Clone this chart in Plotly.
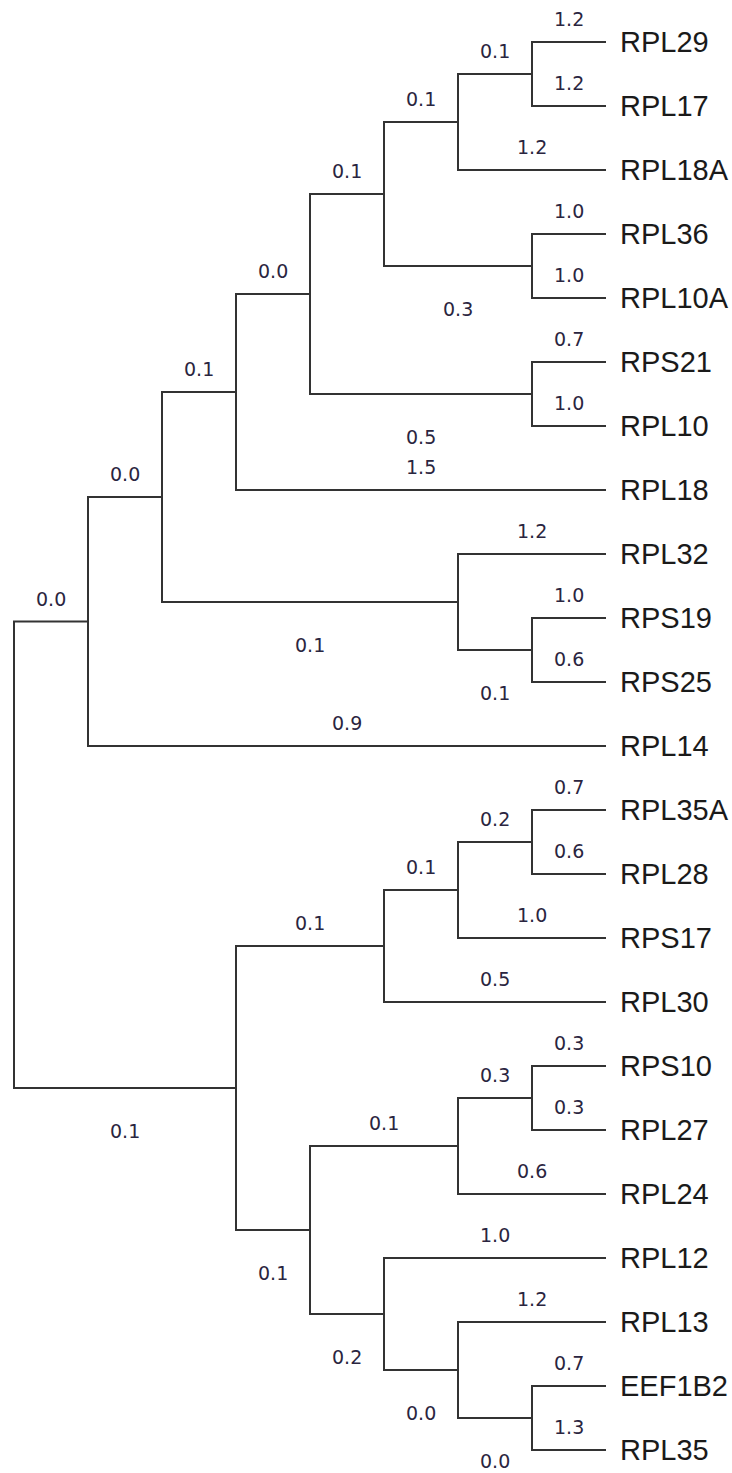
import plotly.graph_objects as go

# Leaf order, top to bottom
leaf_names = ["RPL29", "RPL17", "RPL18A", "RPL36", "RPL10A", "RPS21", "RPL10",
              "RPL18", "RPL32", "RPS19", "RPS25", "RPL14", "RPL35A", "RPL28",
              "RPS17", "RPL30", "RPS10", "RPL27", "RPL24", "RPL12", "RPL13",
              "EEF1B2", "RPL35"]

# Tree edges (parent -> child, with branch length); for each parent the
# upper child is listed first.
edge_parent = ["root", "root",
               "A", "A",
               "A1", "A1",
               "A2", "A2",
               "A4", "A4",
               "A5", "A5",
               "A7", "A7",
               "A9", "A9",
               "A8", "A8",
               "A6", "A6",
               "A3", "A3",
               "A10", "A10",
               "B", "B",
               "B1", "B1",
               "B3", "B3",
               "B4", "B4",
               "B2", "B2",
               "B5", "B5",
               "B7", "B7",
               "B6", "B6",
               "B8", "B8",
               "B9", "B9"]
edge_child = ["A", "B",
              "A1", "RPL14",
              "A2", "A3",
              "A4", "RPL18",
              "A5", "A6",
              "A7", "A8",
              "A9", "RPL18A",
              "RPL29", "RPL17",
              "RPL36", "RPL10A",
              "RPS21", "RPL10",
              "RPL32", "A10",
              "RPS19", "RPS25",
              "B1", "B2",
              "B3", "RPL30",
              "B4", "RPS17",
              "RPL35A", "RPL28",
              "B5", "B6",
              "B7", "RPL24",
              "RPS10", "RPL27",
              "RPL12", "B8",
              "RPL13", "B9",
              "EEF1B2", "RPL35"]
edge_length = [0.0, 0.1,
               0.0, 0.9,
               0.1, 0.1,
               0.0, 1.5,
               0.1, 0.5,
               0.1, 0.3,
               0.1, 1.2,
               1.2, 1.2,
               1.0, 1.0,
               0.7, 1.0,
               1.2, 0.1,
               1.0, 0.6,
               0.1, 0.1,
               0.1, 0.5,
               0.2, 1.0,
               0.7, 0.6,
               0.1, 0.2,
               0.3, 0.6,
               0.3, 0.3,
               1.0, 0.0,
               1.2, 0.0,
               0.7, 1.3]

# ---- topology-only layout: x by node height, y by leaf order ----
children = {}
for p, c in zip(edge_parent, edge_child):
    children.setdefault(p, []).append(c)

height = {}
def get_height(n):
    if n not in children:
        height[n] = 0
    else:
        height[n] = 1 + max(get_height(c) for c in children[n])
    return height[n]

get_height("root")
max_h = height["root"]

ypos = {name: i for i, name in enumerate(leaf_names)}
def get_y(n):
    if n in ypos:
        return ypos[n]
    ys = [get_y(c) for c in children[n]]
    ypos[n] = (ys[0] + ys[-1]) / 2
    return ypos[n]

get_y("root")
xpos = {n: max_h - h for n, h in height.items()}

# bracket paths for each internal node
lx, ly = [], []
for p, kids in children.items():
    c1, c2 = kids[0], kids[-1]
    lx += [xpos[c1], xpos[p], xpos[p], xpos[c2], None]
    ly += [ypos[c1], ypos[c1], ypos[c2], ypos[c2], None]

fig = go.Figure()
fig.add_trace(go.Scatter(x=lx, y=ly, mode="lines",
                         line=dict(color="#333333", width=2),
                         hoverinfo="skip", showlegend=False))

annotations = []
# leaf names
for name in leaf_names:
    annotations.append(dict(x=xpos[name], y=ypos[name], text=name,
                            showarrow=False, xanchor="left", yanchor="middle",
                            xshift=12,
                            font=dict(family="Liberation Sans, Arial", size=29,
                                      color="#1a1a1a")))

# branch length labels: leaves and upper children above, lower internal below
for p, c, L in zip(edge_parent, edge_child, edge_length):
    is_lower = children[p][-1] == c
    below = is_lower and c in children
    annotations.append(dict(x=(xpos[p] + xpos[c]) / 2, y=ypos[c],
                            text=f"{L:.1f}", showarrow=False,
                            xanchor="center", yanchor="middle",
                            yshift=-43 if below else 23,
                            font=dict(family="DejaVu Sans", size=19,
                                      color="#2a2540")))

px_per_x = 74.0
x0_px = 14.0
px_per_y = 64.0
y0_px = 42.0
W, H = 732, 1473

fig.update_layout(
    width=W, height=H,
    margin=dict(l=0, r=0, t=0, b=0),
    paper_bgcolor="white", plot_bgcolor="white",
    annotations=annotations,
    xaxis=dict(range=[-x0_px / px_per_x, (W - x0_px) / px_per_x],
               visible=False, fixedrange=True),
    yaxis=dict(range=[(H - y0_px) / px_per_y, -y0_px / px_per_y],
               visible=False, fixedrange=True),
)

fig.write_html("out.html")
